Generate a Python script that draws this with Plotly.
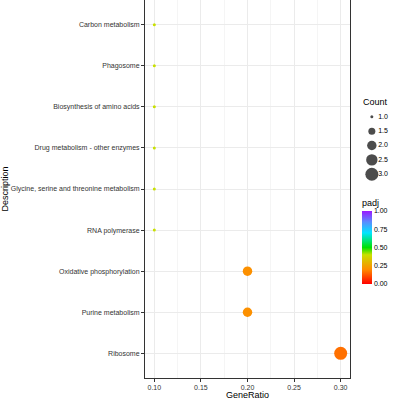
import plotly.graph_objects as go
import numpy as np

descriptions = ["Carbon metabolism", "Phagosome", "Biosynthesis of amino acids",
                "Drug metabolism - other enzymes", "Glycine, serine and threonine metabolism",
                "RNA polymerase", "Oxidative phosphorylation", "Purine metabolism", "Ribosome"]
gene_ratio = [0.10, 0.10, 0.10, 0.10, 0.10, 0.10, 0.20, 0.20, 0.30]
counts = [1, 1, 1, 1, 1, 1, 2, 2, 3]
padj = [0.40, 0.40, 0.40, 0.40, 0.40, 0.40, 0.21, 0.21, 0.16]

legend_counts = [1.0, 1.5, 2.0, 2.5, 3.0]
x_ticks = [0.10, 0.15, 0.20, 0.25, 0.30]
cbar_ticks = [0.0, 0.25, 0.5, 0.75, 1.0]

colorscale = [[0.0, "#FF0000"], [0.2, "#FF8C00"], [0.4, "#C8E000"], [0.5, "#00E000"],
              [0.7, "#00E5FF"], [0.85, "#5A8CFF"], [1.0, "#9A1AFF"]]


def size_of(c):
    return list(np.sqrt(9 + 80 * (np.asarray(c, dtype=float) - 1)))


W, H = 397, 400
ML, MB, MT, MR = 145, 22, 0, 0
pw = W - ML - MR
ph = H - MT - MB

fig = go.Figure()
fig.add_trace(go.Scatter(
    x=gene_ratio, y=descriptions, mode="markers",
    marker=dict(size=size_of(counts), color=padj, cmin=0, cmax=1, colorscale=colorscale,
                line=dict(width=0), opacity=1,
                colorbar=dict(
                    title=dict(text="padj", side="top", font=dict(size=9, color="#000")),
                    thickness=10, thicknessmode="pixels",
                    len=88, lenmode="pixels",
                    x=(362 - ML) / pw, xanchor="left",
                    y=1 - (196 - MT) / ph, yanchor="top",
                    xpad=0, ypad=0, outlinewidth=0,
                    tickvals=cbar_ticks, ticktext=["0.00", "0.25", "0.50", "0.75", "1.00"],
                    ticks="", tickfont=dict(size=7, color="#000"))),
    showlegend=False, hoverinfo="x+y"))

# size legend drawn on a small auxiliary axis
fig.add_trace(go.Scatter(
    x=[0.32] * len(legend_counts), y=legend_counts, mode="markers",
    marker=dict(size=size_of(legend_counts), color="black", line=dict(width=0)),
    xaxis="x2", yaxis="y2", showlegend=False, hoverinfo="skip"))
fig.add_trace(go.Scatter(
    x=[0.49] * len(legend_counts), y=legend_counts, mode="text",
    text=[f"{c:.1f}" for c in legend_counts], textposition="middle right",
    textfont=dict(size=7, color="#000"),
    xaxis="x2", yaxis="y2", showlegend=False, hoverinfo="skip"))

fig.update_layout(
    width=W, height=H,
    margin=dict(l=ML, r=MR, t=MT, b=MB, autoexpand=False),
    paper_bgcolor="white", plot_bgcolor="white",
    font=dict(family="Liberation Sans, Arial, sans-serif", color="#000"),
    xaxis=dict(domain=[0, (350 - ML) / pw], range=[0.09, 0.31], automargin=False,
               tickvals=x_ticks, ticktext=[f"{t:.2f}" for t in x_ticks],
               tickfont=dict(size=7, color="#333333"),
               showgrid=True, gridcolor="#EBEBEB", gridwidth=1,
               minor=dict(dtick=0.025, tick0=0.075, showgrid=True, gridcolor="#F5F5F5", gridwidth=0.6, ticks=""),
               showline=True, linecolor="#333333", linewidth=1, mirror=True,
               ticks="outside", ticklen=3, tickcolor="#333333", zeroline=False,
               title=dict(text="GeneRatio", font=dict(size=9, color="#000"), standoff=2)),
    yaxis=dict(type="category", categoryorder="array", categoryarray=descriptions,
               range=[len(descriptions) - 0.4, -0.6], automargin=False,
               tickfont=dict(size=7, color="#333333"),
               showgrid=True, gridcolor="#EBEBEB", gridwidth=1,
               showline=True, linecolor="#333333", linewidth=1, mirror=True,
               ticks="outside", ticklen=3, tickcolor="#333333", zeroline=False,
               title=dict(text="Description", font=dict(size=9, color="#000"), standoff=2)),
    xaxis2=dict(domain=[(360 - ML) / pw, 1], range=[0, 1], visible=False, fixedrange=True),
    yaxis2=dict(domain=[0.52, 0.71], range=[3.25, 0.75], visible=False, fixedrange=True,
                anchor="x2"),
    annotations=[dict(text="Count", x=(361 - ML) / pw, y=1 - (102 - MT) / ph,
                      xref="paper", yref="paper", xanchor="left", yanchor="middle",
                      showarrow=False, font=dict(size=9, color="#000"))],
)

fig.write_html("out.html", config={"displayModeBar": False},
               post_script="document.body.style.margin='0';document.body.style.overflow='hidden';")
